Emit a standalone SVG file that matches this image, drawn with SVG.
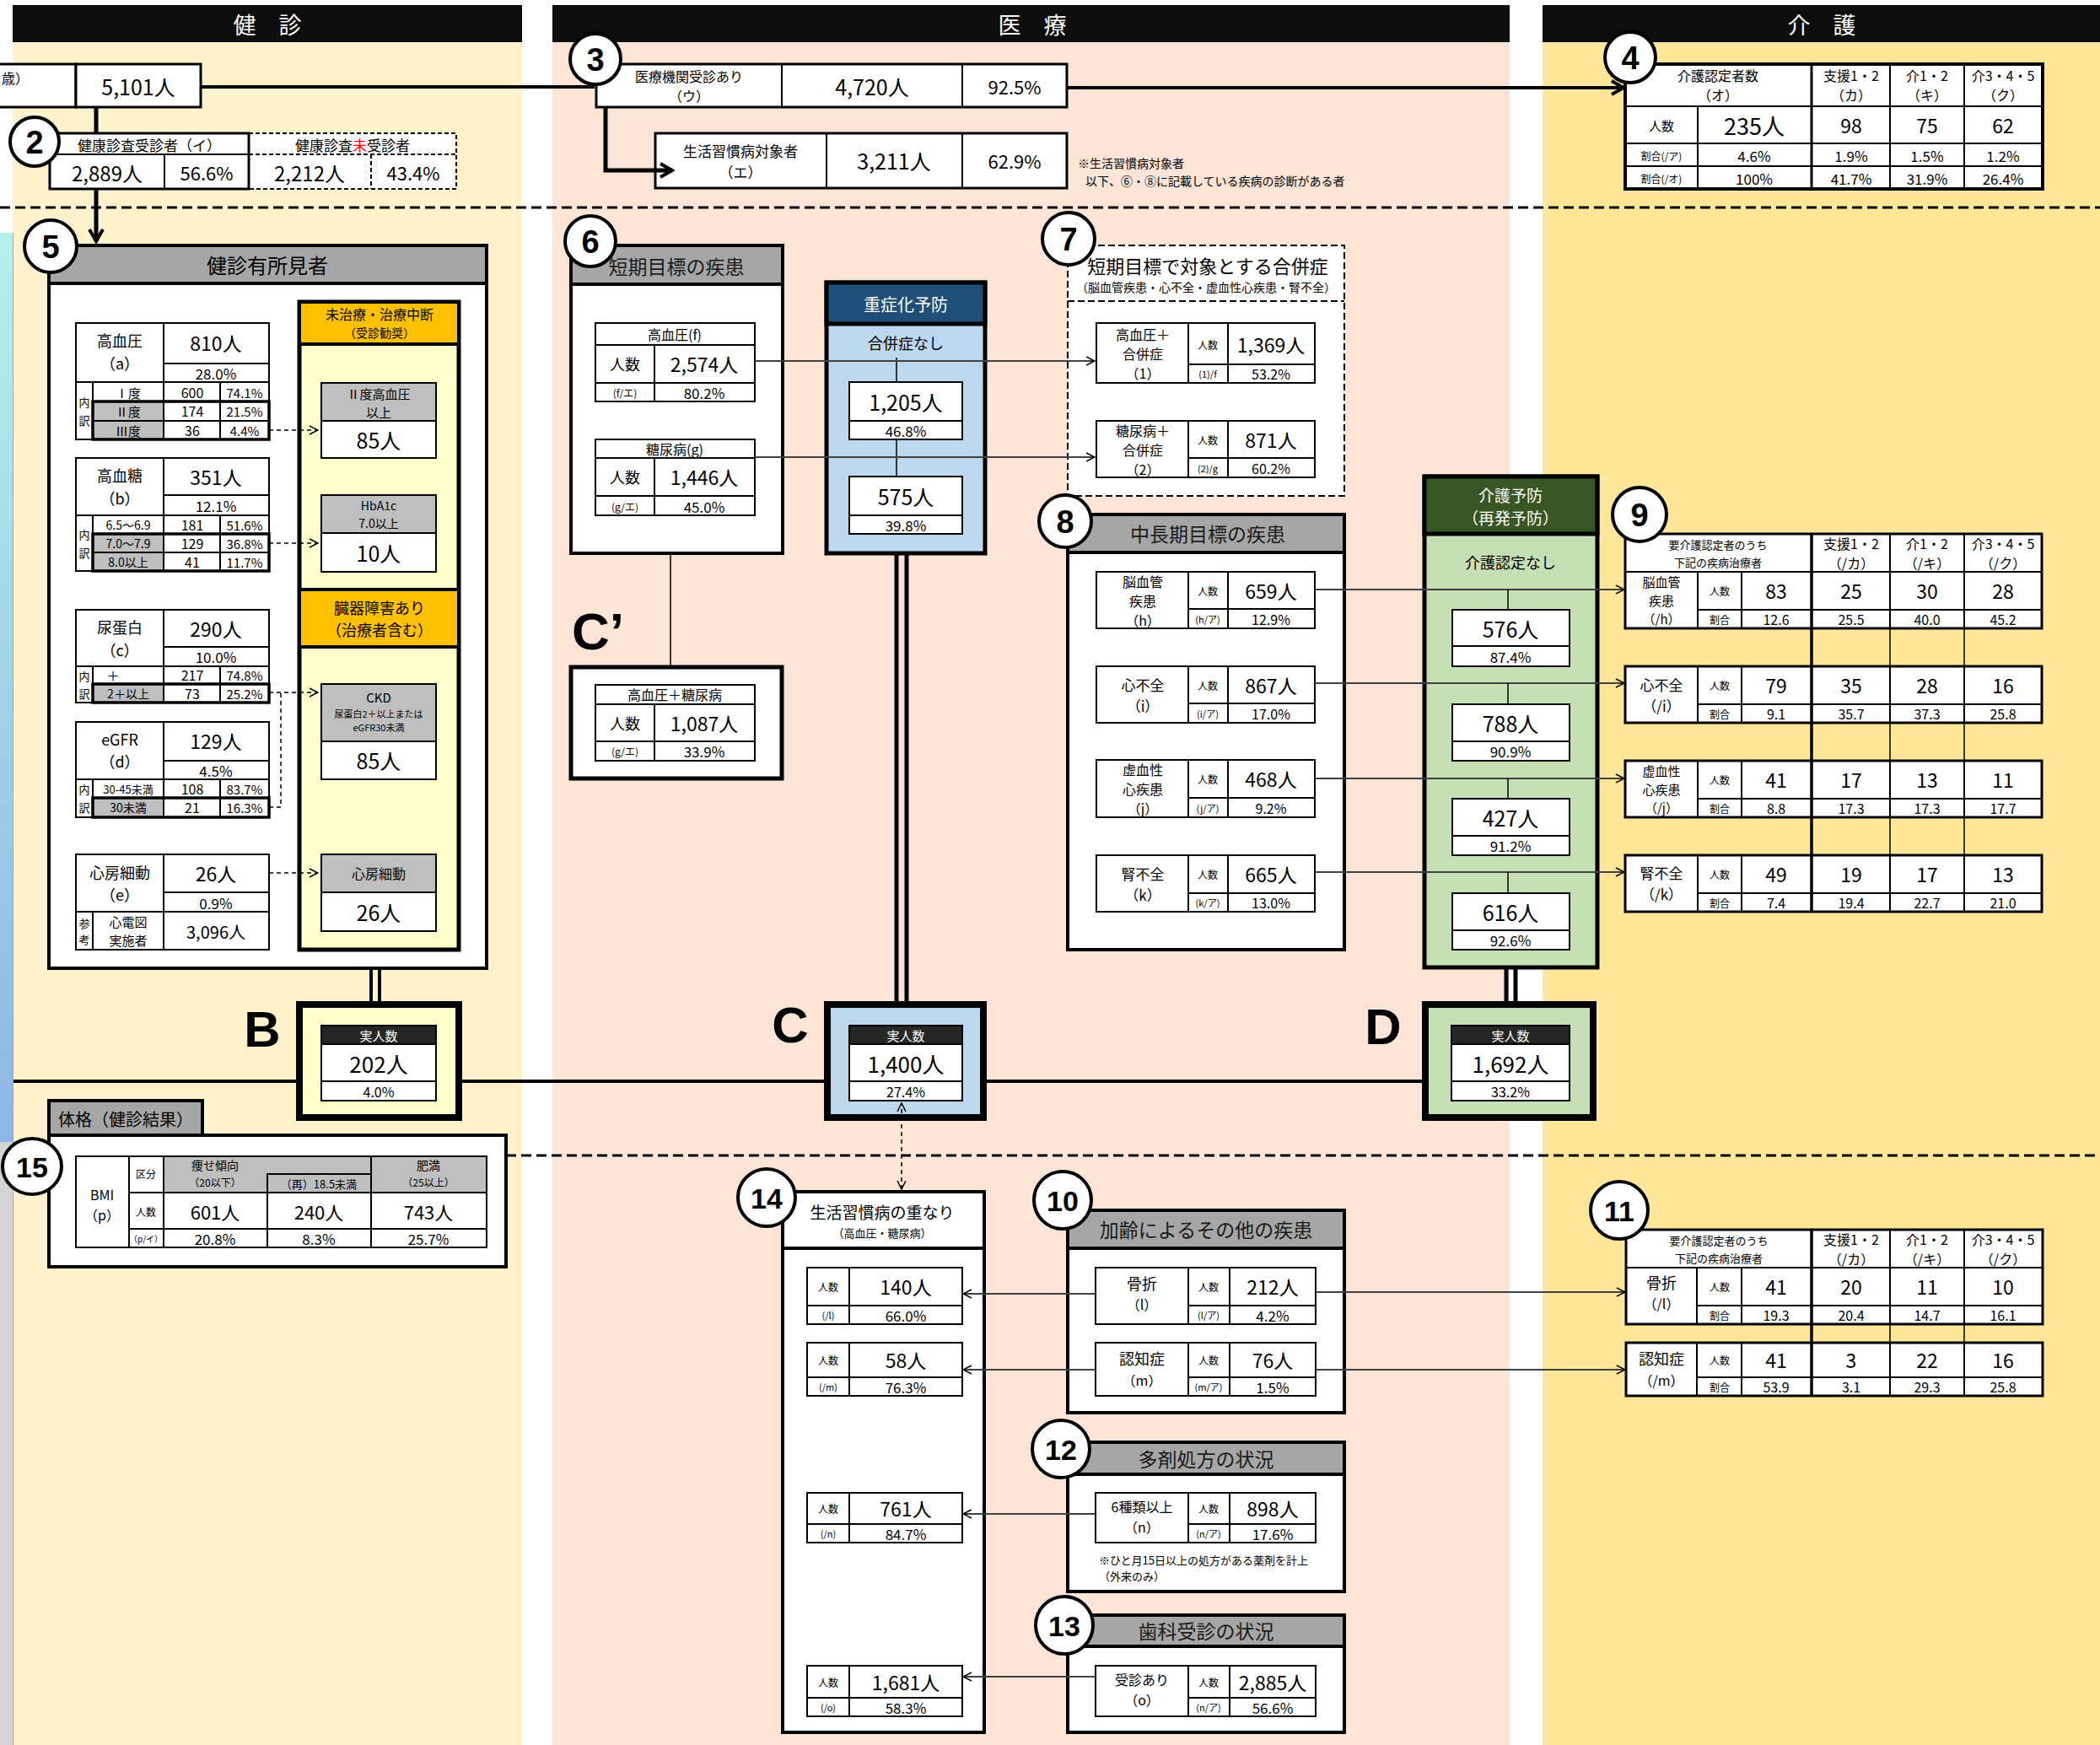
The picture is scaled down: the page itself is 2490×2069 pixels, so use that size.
<svg xmlns="http://www.w3.org/2000/svg" width="2490" height="2069" viewBox="0 0 2490 2069">
<defs>
<style>
text{font-family:"Noto Sans CJK JP","Noto Sans CJK SC",sans-serif;fill:#000;stroke:none;text-anchor:middle;dominant-baseline:central}
.s{text-anchor:start}
.e{text-anchor:end}
.wt{fill:#fff}
.ltr{font-family:"Liberation Sans","DejaVu Sans",sans-serif;font-weight:bold}
.cn{font-family:"Liberation Sans","DejaVu Sans",sans-serif;font-weight:bold;font-size:38px}
.cn2{font-family:"Liberation Sans","DejaVu Sans",sans-serif;font-weight:bold;font-size:34px}
.cir{fill:#fff;stroke:#000;stroke-width:4}
.hdr{fill:#a6a6a6;stroke:#000;stroke-width:4}
.ttl{font-size:23px;fill:#1a1a1a}
</style>
<marker id="a" viewBox="0 0 12 12" refX="11" refY="6" markerWidth="12" markerHeight="12" markerUnits="userSpaceOnUse" orient="auto-start-reverse"><path d="M1,1 L11,6 L1,11" fill="none" stroke="#000" stroke-width="1.5"/></marker>
<marker id="A" viewBox="0 0 20 20" refX="17" refY="10" markerWidth="20" markerHeight="20" markerUnits="userSpaceOnUse" orient="auto"><path d="M3,2 L17,10 L3,18" fill="none" stroke="#000" stroke-width="4"/></marker>
<linearGradient id="cy" x1="0" y1="0" x2="0" y2="1"><stop offset="0" stop-color="#B6F0EC"/><stop offset="1" stop-color="#8DB6E4"/></linearGradient>
</defs>

<g id="background">
<rect x="0" y="0" width="2490" height="2069" fill="#fff"/>
<rect x="15" y="50" width="604" height="2019" fill="#FFF2CC"/>
<rect x="655" y="50" width="1135" height="2019" fill="#FCE4D6"/>
<rect x="1829" y="50" width="661" height="2019" fill="#FFE699"/>
<rect x="0" y="276" width="15" height="1078" fill="url(#cy)"/>
<rect x="0" y="1354" width="15" height="715" fill="#D4D4D4"/>
<line x1="15.5" y1="276" x2="15.5" y2="2069" stroke="#8fa9c8" stroke-width="1"/>
<rect x="15" y="6" width="604" height="44" fill="#0d0d0d"/>
<text x="317" y="28" font-size="27" class="wt">健　診</text>
<rect x="655" y="6" width="1135" height="44" fill="#0d0d0d"/>
<text x="1224" y="28" font-size="27" class="wt">医　療</text>
<rect x="1829" y="6" width="661" height="44" fill="#0d0d0d"/>
<text x="2160" y="28" font-size="27" class="wt">介　護</text>
<line x1="0" y1="246" x2="2490" y2="246" stroke="#000" stroke-width="3" stroke-dasharray="12,6"/>
<line x1="600" y1="1370" x2="2490" y2="1370" stroke="#000" stroke-width="3" stroke-dasharray="12,6"/>
</g>

<g id="n1">
<g fill="#fff" stroke="#000" stroke-width="3"><rect x="-4" y="76" width="94" height="51"/><rect x="90" y="76" width="148" height="51"/></g>
<text x="34" y="92" font-size="16" class="e">歳）</text>
<text x="164" y="102" font-size="25">5,101人</text>
</g>

<g id="n2">
<rect x="295" y="158" width="246" height="66" fill="#fff" stroke="#000" stroke-width="2" stroke-dasharray="5,3"/>
<g stroke="#000" stroke-width="2" stroke-dasharray="5,3"><line x1="295" y1="183" x2="541" y2="183"/><line x1="440" y1="183" x2="440" y2="224"/></g>
<rect x="59" y="158" width="236" height="66" fill="#fff" stroke="#000" stroke-width="3"/>
<g stroke="#000" stroke-width="2"><line x1="59" y1="183" x2="295" y2="183"/><line x1="195" y1="183" x2="195" y2="224"/></g>
<text x="177" y="171" font-size="17">健康診査受診者（イ）</text>
<text x="418" y="171" font-size="17">健康診査<tspan fill="#ff0000">未</tspan>受診者</text>
<text x="127" y="204" font-size="24">2,889人</text>
<text x="245" y="204" font-size="22">56.6%</text>
<text x="367" y="204" font-size="24">2,212人</text>
<text x="490" y="204" font-size="22">43.4%</text>
<circle class="cir" cx="41" cy="168" r="29"/><text x="41" y="169" class="cn">2</text>
</g>

<g id="n3">
<g fill="#fff" stroke="#000" stroke-width="3"><rect x="707" y="76" width="558" height="51"/></g>
<g stroke="#000" stroke-width="2"><line x1="927" y1="76" x2="927" y2="127"/><line x1="1141" y1="76" x2="1141" y2="127"/></g>
<text x="817" y="90" font-size="16">医療機関受診あり</text>
<text x="817" y="113" font-size="16">（ウ）</text>
<text x="1034" y="102" font-size="25">4,720人</text>
<text x="1203" y="102" font-size="22">92.5%</text>
<circle class="cir" cx="706" cy="70" r="30"/><text x="706" y="71" class="cn">3</text>
</g>

<g id="n3b">
<rect x="777" y="158" width="488" height="65" fill="#fff" stroke="#000" stroke-width="3"/>
<g stroke="#000" stroke-width="2"><line x1="980" y1="158" x2="980" y2="223"/><line x1="1141" y1="158" x2="1141" y2="223"/></g>
<text x="878" y="178" font-size="17">生活習慣病対象者</text>
<text x="878" y="203" font-size="17">（エ）</text>
<text x="1060" y="190" font-size="25">3,211人</text>
<text x="1203" y="190" font-size="22">62.9%</text>
<text x="1278" y="193" font-size="14" class="s">※生活習慣病対象者</text>
<text x="1287" y="214" font-size="14" class="s">以下、⑥・⑧に記載している疾病の診断がある者</text>
</g>

<g id="n4">
<rect x="1927" y="76" width="495" height="148" fill="#fff" stroke="#000" stroke-width="4"/>
<g stroke="#000" stroke-width="2">
<line x1="1927" y1="126" x2="2422" y2="126"/><line x1="1927" y1="170" x2="2422" y2="170"/><line x1="1927" y1="197" x2="2422" y2="197"/>
<line x1="2013" y1="126" x2="2013" y2="224"/><line x1="2148" y1="76" x2="2148" y2="224" stroke-width="3"/>
<line x1="2241" y1="76" x2="2241" y2="224"/><line x1="2329" y1="76" x2="2329" y2="224"/>
</g>
<text x="2037" y="89" font-size="16">介護認定者数</text><text x="2037" y="112" font-size="16">（オ）</text>
<text x="2195" y="89" font-size="16">支援1・2</text><text x="2195" y="112" font-size="16">（カ）</text>
<text x="2285" y="89" font-size="16">介1・2</text><text x="2285" y="112" font-size="16">（キ）</text>
<text x="2375" y="89" font-size="16">介3・4・5</text><text x="2375" y="112" font-size="16">（ク）</text>
<text x="1970" y="148" font-size="15">人数</text><text x="2080" y="148" font-size="27">235人</text>
<text x="2195" y="148" font-size="23">98</text><text x="2285" y="148" font-size="23">75</text><text x="2375" y="148" font-size="23">62</text>
<text x="1970" y="184" font-size="12">割合(/ア)</text><text x="2080" y="184" font-size="17">4.6%</text>
<text x="2195" y="184" font-size="17">1.9%</text><text x="2285" y="184" font-size="17">1.5%</text><text x="2375" y="184" font-size="17">1.2%</text>
<text x="1970" y="211" font-size="12">割合(/オ)</text><text x="2080" y="211" font-size="17">100%</text>
<text x="2195" y="211" font-size="17">41.7%</text><text x="2285" y="211" font-size="17">31.9%</text><text x="2375" y="211" font-size="17">26.4%</text>
<circle class="cir" cx="1933" cy="68" r="30"/><text x="1933" y="69" class="cn">4</text>
</g>

<g id="n5">
<rect x="58" y="291" width="519" height="857" fill="#fff" stroke="#000" stroke-width="4"/>
<rect class="hdr" x="58" y="291" width="519" height="45"/>
<text x="317" y="313" font-size="24" fill="#222">健診有所見者</text>
<circle class="cir" cx="60" cy="292" r="31"/><text x="60" y="293" class="cn">5</text>
<g stroke="#000" stroke-width="2" fill="#fff">
<rect x="90" y="383" width="229" height="138"/>
<rect x="110" y="476" width="84" height="45" fill="#bfbfbf"/>
<line x1="194" y1="383" x2="194" y2="521"/><line x1="194" y1="431" x2="319" y2="431"/>
<line x1="90" y1="453" x2="319" y2="453"/><line x1="110" y1="453" x2="110" y2="521"/>
<line x1="110" y1="476" x2="319" y2="476"/><line x1="110" y1="499" x2="319" y2="499"/>
<line x1="261" y1="453" x2="261" y2="521"/>
<rect x="110" y="476" width="209" height="45" fill="none" stroke-width="3.5"/>
<rect x="90" y="543" width="229" height="134"/>
<rect x="110" y="633" width="84" height="44" fill="#bfbfbf"/>
<line x1="194" y1="543" x2="194" y2="677"/><line x1="194" y1="587" x2="319" y2="587"/>
<line x1="90" y1="611" x2="319" y2="611"/><line x1="110" y1="611" x2="110" y2="677"/>
<line x1="110" y1="633" x2="319" y2="633"/><line x1="110" y1="655" x2="319" y2="655"/>
<line x1="261" y1="611" x2="261" y2="677"/>
<rect x="110" y="633" width="209" height="44" fill="none" stroke-width="3.5"/>
<rect x="90" y="723" width="229" height="110"/>
<rect x="110" y="811" width="84" height="22" fill="#bfbfbf"/>
<line x1="194" y1="723" x2="194" y2="833"/><line x1="194" y1="767" x2="319" y2="767"/>
<line x1="90" y1="790" x2="319" y2="790"/><line x1="110" y1="790" x2="110" y2="833"/>
<line x1="110" y1="811" x2="319" y2="811"/><line x1="261" y1="790" x2="261" y2="833"/>
<rect x="110" y="811" width="209" height="22" fill="none" stroke-width="3.5"/>
<rect x="90" y="856" width="229" height="113"/>
<rect x="110" y="946" width="84" height="23" fill="#bfbfbf"/>
<line x1="194" y1="856" x2="194" y2="969"/><line x1="194" y1="902" x2="319" y2="902"/>
<line x1="90" y1="924" x2="319" y2="924"/><line x1="110" y1="924" x2="110" y2="969"/>
<line x1="110" y1="946" x2="319" y2="946"/><line x1="261" y1="924" x2="261" y2="969"/>
<rect x="110" y="946" width="209" height="23" fill="none" stroke-width="3.5"/>
<rect x="90" y="1013" width="229" height="113"/>
<line x1="194" y1="1013" x2="194" y2="1126"/><line x1="194" y1="1058" x2="319" y2="1058"/>
<line x1="90" y1="1081" x2="319" y2="1081"/><line x1="110" y1="1081" x2="110" y2="1126"/>
</g>
<text x="142" y="403" font-size="18">高血圧</text><text x="142" y="430" font-size="18">（a）</text>
<text x="256" y="406" font-size="23">810人</text><text x="256" y="442" font-size="17">28.0%</text>
<text x="100" y="476" font-size="13">内</text><text x="100" y="498" font-size="13">訳</text>
<text x="152" y="465" font-size="15">Ⅰ度</text><text x="228" y="465" font-size="16">600</text><text x="290" y="465" font-size="15">74.1%</text>
<text x="152" y="487" font-size="15">Ⅱ度</text><text x="228" y="487" font-size="16">174</text><text x="290" y="487" font-size="15">21.5%</text>
<text x="152" y="510" font-size="15">Ⅲ度</text><text x="228" y="510" font-size="16">36</text><text x="290" y="510" font-size="15">4.4%</text>
<text x="142" y="563" font-size="18">高血糖</text><text x="142" y="590" font-size="18">（b）</text>
<text x="256" y="565" font-size="23">351人</text><text x="256" y="599" font-size="17">12.1%</text>
<text x="100" y="633" font-size="13">内</text><text x="100" y="655" font-size="13">訳</text>
<text x="152" y="622" font-size="14">6.5～6.9</text><text x="228" y="622" font-size="16">181</text><text x="290" y="622" font-size="15">51.6%</text>
<text x="152" y="644" font-size="14">7.0～7.9</text><text x="228" y="644" font-size="16">129</text><text x="290" y="644" font-size="15">36.8%</text>
<text x="152" y="666" font-size="14">8.0以上</text><text x="228" y="666" font-size="16">41</text><text x="290" y="666" font-size="15">11.7%</text>
<text x="142" y="743" font-size="18">尿蛋白</text><text x="142" y="770" font-size="18">（c）</text>
<text x="256" y="745" font-size="23">290人</text><text x="256" y="778" font-size="17">10.0%</text>
<text x="100" y="801" font-size="13">内</text><text x="100" y="822" font-size="13">訳</text>
<text x="134" y="800" font-size="15">＋</text><text x="228" y="800" font-size="16">217</text><text x="290" y="800" font-size="15">74.8%</text>
<text x="152" y="822" font-size="14">2＋以上</text><text x="228" y="822" font-size="16">73</text><text x="290" y="822" font-size="15">25.2%</text>
<text x="142" y="876" font-size="18">eGFR</text><text x="142" y="902" font-size="18">（d）</text>
<text x="256" y="878" font-size="23">129人</text><text x="256" y="913" font-size="17">4.5%</text>
<text x="100" y="935" font-size="13">内</text><text x="100" y="957" font-size="13">訳</text>
<text x="152" y="935" font-size="13">30-45未満</text><text x="228" y="935" font-size="16">108</text><text x="290" y="935" font-size="15">83.7%</text>
<text x="152" y="957" font-size="14">30未満</text><text x="228" y="957" font-size="16">21</text><text x="290" y="957" font-size="15">16.3%</text>
<text x="142" y="1034" font-size="18">心房細動</text><text x="142" y="1060" font-size="18">（e）</text>
<text x="256" y="1035" font-size="23">26人</text><text x="256" y="1070" font-size="17">0.9%</text>
<text x="100" y="1094" font-size="13">参</text><text x="100" y="1113" font-size="13">考</text>
<text x="152" y="1092" font-size="15">心電図</text><text x="152" y="1114" font-size="15">実施者</text>
<text x="256" y="1104" font-size="20">3,096人</text>
<rect x="355" y="358" width="189" height="768" fill="#FFFFCC" stroke="#000" stroke-width="5"/>
<rect x="355" y="358" width="189" height="50" fill="#FFC000" stroke="#000" stroke-width="4"/>
<rect x="355" y="699" width="189" height="68" fill="#FFC000" stroke="#000" stroke-width="4"/>
<text x="450" y="372" font-size="16">未治療・治療中断</text><text x="450" y="394" font-size="14">（受診勧奨）</text>
<text x="450" y="720" font-size="18">臓器障害あり</text><text x="450" y="746" font-size="18">（治療者含む）</text>
<g stroke="#000" stroke-width="2">
<rect x="381" y="454" width="136" height="45" fill="#bfbfbf"/><rect x="381" y="499" width="136" height="44" fill="#fff"/>
<rect x="381" y="587" width="136" height="45" fill="#bfbfbf"/><rect x="381" y="632" width="136" height="46" fill="#fff"/>
<rect x="381" y="811" width="136" height="68" fill="#bfbfbf"/><rect x="381" y="879" width="136" height="45" fill="#fff"/>
<rect x="381" y="1013" width="136" height="45" fill="#bfbfbf"/><rect x="381" y="1058" width="136" height="46" fill="#fff"/>
</g>
<text x="449" y="466" font-size="15">Ⅱ度高血圧</text><text x="449" y="488" font-size="15">以上</text>
<text x="449" y="521" font-size="25">85人</text>
<text x="449" y="599" font-size="14">HbA1c</text><text x="449" y="620" font-size="14">7.0以上</text>
<text x="449" y="655" font-size="25">10人</text>
<text x="449" y="826" font-size="15">CKD</text><text x="449" y="846" font-size="11">尿蛋白2＋以上または</text><text x="449" y="862" font-size="11">eGFR30未満</text>
<text x="449" y="901" font-size="25">85人</text>
<text x="449" y="1035" font-size="16">心房細動</text>
<text x="449" y="1081" font-size="25">26人</text>
</g>

<g id="nB">
<rect x="355" y="1191" width="189" height="134" fill="#FFFFCC" stroke="#000" stroke-width="8"/>
<g stroke="#000" stroke-width="2"><rect x="381" y="1216" width="136" height="22" fill="#262626"/><rect x="381" y="1238" width="136" height="44" fill="#fff"/><rect x="381" y="1282" width="136" height="23" fill="#fff"/></g>
<text x="449" y="1227" font-size="15" class="wt">実人数</text>
<text x="449" y="1260" font-size="26">202人</text>
<text x="449" y="1294" font-size="16">4.0%</text>
<text x="311" y="1220" font-size="60" class="ltr">B</text>
</g>

<g id="n15">
<rect class="hdr" x="58" y="1305" width="182" height="41"/>
<text x="149" y="1326" font-size="20" fill="#222">体格（健診結果）</text>
<rect x="58" y="1346" width="542" height="156" fill="#fff" stroke="#000" stroke-width="4"/>
<g stroke="#000" stroke-width="2">
<rect x="90" y="1371" width="487" height="108" fill="#fff"/>
<rect x="194" y="1371" width="246" height="43" fill="#bfbfbf"/>
<rect x="317" y="1392" width="123" height="22" fill="#bfbfbf"/>
<rect x="440" y="1371" width="137" height="43" fill="#bfbfbf"/>
<line x1="153" y1="1371" x2="153" y2="1479"/><line x1="194" y1="1371" x2="194" y2="1479"/>
<line x1="317" y1="1414" x2="317" y2="1479"/><line x1="440" y1="1414" x2="440" y2="1479"/>
<line x1="153" y1="1414" x2="577" y2="1414"/><line x1="153" y1="1457" x2="577" y2="1457"/>
</g>
<text x="121" y="1416" font-size="16">BMI</text><text x="121" y="1440" font-size="16">（p）</text>
<text x="173" y="1391" font-size="12">区分</text><text x="173" y="1436" font-size="12">人数</text><text x="173" y="1468" font-size="10">（p/イ）</text>
<text x="255" y="1381" font-size="14">痩せ傾向</text><text x="255" y="1401" font-size="12">（20以下）</text>
<text x="378" y="1403" font-size="13">（再）18.5未満</text>
<text x="508" y="1381" font-size="14">肥満</text><text x="508" y="1401" font-size="12">（25以上）</text>
<text x="255" y="1436" font-size="22">601人</text><text x="378" y="1436" font-size="22">240人</text><text x="508" y="1436" font-size="22">743人</text>
<text x="255" y="1468" font-size="17">20.8%</text><text x="378" y="1468" font-size="17">8.3%</text><text x="508" y="1468" font-size="17">25.7%</text>
<ellipse class="cir" cx="38" cy="1383" rx="35" ry="33"/><text x="38" y="1384" class="cn2">15</text>
</g>

<g id="n6">
<rect x="677" y="291" width="251" height="365" fill="#fff" stroke="#000" stroke-width="4"/>
<rect class="hdr" x="677" y="291" width="251" height="46"/>
<text x="802" y="315" class="ttl" font-size="24">短期目標の疾患</text>
<circle class="cir" cx="700" cy="286" r="30"/><text x="700" y="287" class="cn">6</text>
<g stroke="#000" stroke-width="2" fill="#fff">
<rect x="706" y="383" width="189" height="93"/><line x1="706" y1="409" x2="895" y2="409"/><line x1="706" y1="454" x2="895" y2="454"/><line x1="776" y1="409" x2="776" y2="476"/>
<rect x="706" y="521" width="189" height="90"/><line x1="706" y1="543" x2="895" y2="543"/><line x1="706" y1="588" x2="895" y2="588"/><line x1="776" y1="543" x2="776" y2="611"/>
</g>
<text x="800" y="396" font-size="16">高血圧(f)</text>
<text x="741" y="431" font-size="18">人数</text><text x="835" y="431" font-size="23">2,574人</text>
<text x="741" y="465" font-size="12">(f/エ)</text><text x="835" y="465" font-size="17">80.2%</text>
<text x="800" y="532" font-size="16">糖尿病(g)</text>
<text x="741" y="565" font-size="18">人数</text><text x="835" y="565" font-size="23">1,446人</text>
<text x="741" y="600" font-size="12">(g/エ)</text><text x="835" y="600" font-size="17">45.0%</text>
</g>

<g id="nC2">
<rect x="677" y="791" width="250" height="132" fill="#fff" stroke="#000" stroke-width="5"/>
<g stroke="#000" stroke-width="2" fill="#fff">
<rect x="706" y="812" width="189" height="90"/><line x1="706" y1="835" x2="895" y2="835"/><line x1="706" y1="879" x2="895" y2="879"/><line x1="776" y1="835" x2="776" y2="902"/>
</g>
<text x="800" y="823" font-size="16">高血圧＋糖尿病</text>
<text x="741" y="857" font-size="18">人数</text><text x="835" y="857" font-size="23">1,087人</text>
<text x="741" y="890" font-size="12">(g/エ)</text><text x="835" y="890" font-size="17">33.9%</text>
<text x="678" y="748" font-size="62" class="ltr s">C’</text>
</g>

<g id="nSev">
<rect x="980" y="335" width="188" height="321" fill="#BDD7EE" stroke="#000" stroke-width="5"/>
<rect x="980" y="335" width="188" height="49" fill="#1F4E79" stroke="#000" stroke-width="5"/>
<text x="1074" y="360" font-size="20" class="wt">重症化予防</text>
<text x="1074" y="406" font-size="18">合併症なし</text>
<g stroke="#000" stroke-width="2" fill="#fff">
<rect x="1007" y="453" width="134" height="46"/><rect x="1007" y="499" width="134" height="22"/>
<rect x="1007" y="565" width="134" height="46"/><rect x="1007" y="611" width="134" height="22"/>
</g>
<text x="1074" y="476" font-size="25">1,205人</text><text x="1074" y="510" font-size="17">46.8%</text>
<text x="1074" y="588" font-size="25">575人</text><text x="1074" y="622" font-size="17">39.8%</text>
</g>

<g id="nC">
<rect x="981" y="1191" width="185" height="134" fill="#BDD7EE" stroke="#000" stroke-width="8"/>
<g stroke="#000" stroke-width="2"><rect x="1007" y="1216" width="134" height="22" fill="#262626"/><rect x="1007" y="1238" width="134" height="44" fill="#fff"/><rect x="1007" y="1282" width="134" height="23" fill="#fff"/></g>
<text x="1074" y="1227" font-size="15" class="wt">実人数</text>
<text x="1074" y="1260" font-size="26">1,400人</text>
<text x="1074" y="1294" font-size="16">27.4%</text>
<text x="937" y="1215" font-size="60" class="ltr">C</text>
</g>

<g id="n7">
<rect x="1266" y="291" width="328" height="297" fill="#fff" stroke="#000" stroke-width="2" stroke-dasharray="8,4"/>
<line x1="1266" y1="357" x2="1594" y2="357" stroke="#000" stroke-width="2" stroke-dasharray="8,4"/>
<text x="1432" y="314" font-size="22">短期目標で対象とする合併症</text>
<text x="1430" y="340" font-size="14">（脳血管疾患・心不全・虚血性心疾患・腎不全）</text>
<circle class="cir" cx="1267" cy="283" r="31"/><text x="1267" y="284" class="cn">7</text>
<g stroke="#000" stroke-width="2" fill="#fff">
<rect x="1300" y="383" width="259" height="71"/><line x1="1409" y1="383" x2="1409" y2="454"/><line x1="1456" y1="383" x2="1456" y2="454"/><line x1="1409" y1="432" x2="1559" y2="432"/>
<rect x="1300" y="499" width="259" height="67"/><line x1="1409" y1="499" x2="1409" y2="566"/><line x1="1456" y1="499" x2="1456" y2="566"/><line x1="1409" y1="543" x2="1559" y2="543"/>
</g>
<text x="1355" y="396" font-size="16">高血圧＋</text><text x="1355" y="419" font-size="16">合併症</text><text x="1355" y="442" font-size="16">（1）</text>
<text x="1432" y="408" font-size="12">人数</text><text x="1507" y="408" font-size="23">1,369人</text>
<text x="1432" y="443" font-size="11">(1)/f</text><text x="1507" y="443" font-size="16">53.2%</text>
<text x="1355" y="510" font-size="16">糖尿病＋</text><text x="1355" y="533" font-size="16">合併症</text><text x="1355" y="556" font-size="16">（2）</text>
<text x="1432" y="521" font-size="12">人数</text><text x="1507" y="521" font-size="23">871人</text>
<text x="1432" y="555" font-size="11">(2)/g</text><text x="1507" y="555" font-size="16">60.2%</text>
</g>

<g id="n8">
<rect x="1266" y="610" width="328" height="516" fill="#fff" stroke="#000" stroke-width="4"/>
<rect class="hdr" x="1266" y="610" width="328" height="45"/>
<text x="1432" y="632" class="ttl">中長期目標の疾患</text>
<circle class="cir" cx="1263" cy="618" r="31"/><text x="1263" y="619" class="cn">8</text>
<g stroke="#000" stroke-width="2" fill="#fff">
<rect x="1300" y="678" width="259" height="67"/><line x1="1409" y1="678" x2="1409" y2="745"/><line x1="1456" y1="678" x2="1456" y2="745"/><line x1="1409" y1="722" x2="1559" y2="722"/>
<rect x="1300" y="790" width="259" height="67"/><line x1="1409" y1="790" x2="1409" y2="857"/><line x1="1456" y1="790" x2="1456" y2="857"/><line x1="1409" y1="834" x2="1559" y2="834"/>
<rect x="1300" y="901" width="259" height="68"/><line x1="1409" y1="901" x2="1409" y2="969"/><line x1="1456" y1="901" x2="1456" y2="969"/><line x1="1409" y1="946" x2="1559" y2="946"/>
<rect x="1300" y="1014" width="259" height="67"/><line x1="1409" y1="1014" x2="1409" y2="1081"/><line x1="1456" y1="1014" x2="1456" y2="1081"/><line x1="1409" y1="1059" x2="1559" y2="1059"/>
</g>
<text x="1355" y="689" font-size="16">脳血管</text><text x="1355" y="712" font-size="16">疾患</text><text x="1355" y="735" font-size="16">（h）</text>
<text x="1432" y="700" font-size="12">人数</text><text x="1507" y="700" font-size="23">659人</text>
<text x="1432" y="734" font-size="11">(h/ア)</text><text x="1507" y="734" font-size="16">12.9%</text>
<text x="1355" y="811" font-size="17">心不全</text><text x="1355" y="836" font-size="17">（i）</text>
<text x="1432" y="812" font-size="12">人数</text><text x="1507" y="812" font-size="23">867人</text>
<text x="1432" y="846" font-size="11">(i/ア)</text><text x="1507" y="846" font-size="16">17.0%</text>
<text x="1355" y="912" font-size="16">虚血性</text><text x="1355" y="935" font-size="16">心疾患</text><text x="1355" y="958" font-size="16">（j）</text>
<text x="1432" y="923" font-size="12">人数</text><text x="1507" y="923" font-size="23">468人</text>
<text x="1432" y="958" font-size="11">(j/ア)</text><text x="1507" y="958" font-size="16">9.2%</text>
<text x="1355" y="1035" font-size="17">腎不全</text><text x="1355" y="1060" font-size="17">（k）</text>
<text x="1432" y="1036" font-size="12">人数</text><text x="1507" y="1036" font-size="23">665人</text>
<text x="1432" y="1070" font-size="11">(k/ア)</text><text x="1507" y="1070" font-size="16">13.0%</text>
</g>

<g id="nPrev">
<rect x="1689" y="565" width="205" height="582" fill="#C5E0B4" stroke="#000" stroke-width="5"/>
<rect x="1689" y="565" width="205" height="68" fill="#375623" stroke="#000" stroke-width="5"/>
<text x="1791" y="586" font-size="19" class="wt">介護予防</text><text x="1791" y="613" font-size="19" class="wt">（再発予防）</text>
<text x="1791" y="666" font-size="18">介護認定なし</text>
<g stroke="#000" stroke-width="2" fill="#fff">
<rect x="1722" y="723" width="139" height="43"/><rect x="1722" y="766" width="139" height="24"/>
<rect x="1722" y="835" width="139" height="44"/><rect x="1722" y="879" width="139" height="23"/>
<rect x="1722" y="947" width="139" height="44"/><rect x="1722" y="991" width="139" height="23"/>
<rect x="1722" y="1059" width="139" height="44"/><rect x="1722" y="1103" width="139" height="23"/>
</g>
<text x="1791" y="745" font-size="25">576人</text><text x="1791" y="778" font-size="17">87.4%</text>
<text x="1791" y="857" font-size="25">788人</text><text x="1791" y="890" font-size="17">90.9%</text>
<text x="1791" y="969" font-size="25">427人</text><text x="1791" y="1002" font-size="17">91.2%</text>
<text x="1791" y="1081" font-size="25">616人</text><text x="1791" y="1114" font-size="17">92.6%</text>
</g>

<g id="nD">
<rect x="1690" y="1191" width="199" height="134" fill="#C5E0B4" stroke="#000" stroke-width="8"/>
<g stroke="#000" stroke-width="2"><rect x="1721" y="1216" width="140" height="22" fill="#262626"/><rect x="1721" y="1238" width="140" height="44" fill="#fff"/><rect x="1721" y="1282" width="140" height="23" fill="#fff"/></g>
<text x="1791" y="1227" font-size="15" class="wt">実人数</text>
<text x="1791" y="1260" font-size="26">1,692人</text>
<text x="1791" y="1294" font-size="16">33.2%</text>
<text x="1640" y="1217" font-size="60" class="ltr">D</text>
</g>

<g id="n9">
<g stroke="#000" stroke-width="2" fill="#fff">
<rect x="1927" y="633" width="494" height="112" stroke-width="3"/>
<line x1="1927" y1="678" x2="2421" y2="678"/><line x1="2013" y1="678" x2="2013" y2="745"/><line x1="2065" y1="678" x2="2065" y2="745"/>
<line x1="2148" y1="633" x2="2148" y2="745" stroke-width="3.5"/><line x1="2241" y1="633" x2="2241" y2="745"/><line x1="2329" y1="633" x2="2329" y2="745"/>
<line x1="2013" y1="723" x2="2421" y2="723"/>
<rect x="1927" y="790" width="494" height="67" stroke-width="3"/>
<line x1="2013" y1="790" x2="2013" y2="857"/><line x1="2065" y1="790" x2="2065" y2="857"/><line x1="2148" y1="790" x2="2148" y2="857" stroke-width="3.5"/><line x1="2241" y1="790" x2="2241" y2="857"/><line x1="2329" y1="790" x2="2329" y2="857"/><line x1="2013" y1="835" x2="2421" y2="835"/>
<rect x="1927" y="902" width="494" height="67" stroke-width="3"/>
<line x1="2013" y1="902" x2="2013" y2="969"/><line x1="2065" y1="902" x2="2065" y2="969"/><line x1="2148" y1="902" x2="2148" y2="969" stroke-width="3.5"/><line x1="2241" y1="902" x2="2241" y2="969"/><line x1="2329" y1="902" x2="2329" y2="969"/><line x1="2013" y1="947" x2="2421" y2="947"/>
<rect x="1927" y="1014" width="494" height="67" stroke-width="3"/>
<line x1="2013" y1="1014" x2="2013" y2="1081"/><line x1="2065" y1="1014" x2="2065" y2="1081"/><line x1="2148" y1="1014" x2="2148" y2="1081" stroke-width="3.5"/><line x1="2241" y1="1014" x2="2241" y2="1081"/><line x1="2329" y1="1014" x2="2329" y2="1081"/><line x1="2013" y1="1059" x2="2421" y2="1059"/>
</g>
<text x="2037" y="645" font-size="13">要介護認定者のうち</text><text x="2037" y="666" font-size="13">下記の疾病治療者</text>
<text x="2195" y="644" font-size="16">支援1・2</text><text x="2195" y="667" font-size="16">（/カ）</text>
<text x="2285" y="644" font-size="16">介1・2</text><text x="2285" y="667" font-size="16">（/キ）</text>
<text x="2375" y="644" font-size="16">介3・4・5</text><text x="2375" y="667" font-size="16">（/ク）</text>
<text x="1970" y="689" font-size="15">脳血管</text><text x="1970" y="711" font-size="15">疾患</text><text x="1970" y="733" font-size="15">（/h）</text>
<text x="2039" y="700" font-size="12">人数</text><text x="2106" y="700" font-size="23">83</text><text x="2195" y="700" font-size="23">25</text><text x="2285" y="700" font-size="23">30</text><text x="2375" y="700" font-size="23">28</text>
<text x="2039" y="734" font-size="12">割合</text><text x="2106" y="734" font-size="16">12.6</text><text x="2195" y="734" font-size="16">25.5</text><text x="2285" y="734" font-size="16">40.0</text><text x="2375" y="734" font-size="16">45.2</text>
<text x="1970" y="811" font-size="17">心不全</text><text x="1970" y="836" font-size="17">（/i）</text>
<text x="2039" y="812" font-size="12">人数</text><text x="2106" y="812" font-size="23">79</text><text x="2195" y="812" font-size="23">35</text><text x="2285" y="812" font-size="23">28</text><text x="2375" y="812" font-size="23">16</text>
<text x="2039" y="846" font-size="12">割合</text><text x="2106" y="846" font-size="16">9.1</text><text x="2195" y="846" font-size="16">35.7</text><text x="2285" y="846" font-size="16">37.3</text><text x="2375" y="846" font-size="16">25.8</text>
<text x="1970" y="913" font-size="15">虚血性</text><text x="1970" y="935" font-size="15">心疾患</text><text x="1970" y="957" font-size="15">（/j）</text>
<text x="2039" y="924" font-size="12">人数</text><text x="2106" y="924" font-size="23">41</text><text x="2195" y="924" font-size="23">17</text><text x="2285" y="924" font-size="23">13</text><text x="2375" y="924" font-size="23">11</text>
<text x="2039" y="958" font-size="12">割合</text><text x="2106" y="958" font-size="16">8.8</text><text x="2195" y="958" font-size="16">17.3</text><text x="2285" y="958" font-size="16">17.3</text><text x="2375" y="958" font-size="16">17.7</text>
<text x="1970" y="1034" font-size="17">腎不全</text><text x="1970" y="1059" font-size="17">（/k）</text>
<text x="2039" y="1036" font-size="12">人数</text><text x="2106" y="1036" font-size="23">49</text><text x="2195" y="1036" font-size="23">19</text><text x="2285" y="1036" font-size="23">17</text><text x="2375" y="1036" font-size="23">13</text>
<text x="2039" y="1070" font-size="12">割合</text><text x="2106" y="1070" font-size="16">7.4</text><text x="2195" y="1070" font-size="16">19.4</text><text x="2285" y="1070" font-size="16">22.7</text><text x="2375" y="1070" font-size="16">21.0</text>
<circle class="cir" cx="1944" cy="610" r="32"/><text x="1944" y="611" class="cn">9</text>
</g>

<g id="n14">
<rect x="928" y="1413" width="239" height="641" fill="#fff" stroke="#000" stroke-width="4"/>
<line x1="928" y1="1480" x2="1167" y2="1480" stroke="#000" stroke-width="4"/>
<text x="1046" y="1436" font-size="19">生活習慣病の重なり</text>
<text x="1046" y="1461" font-size="13">（高血圧・糖尿病）</text>
<circle class="cir" cx="909" cy="1420" r="34"/><text x="909" y="1421" class="cn2">14</text>
<g stroke="#000" stroke-width="2" fill="#fff">
<rect x="957" y="1503" width="184" height="67"/><line x1="1007" y1="1503" x2="1007" y2="1570"/><line x1="957" y1="1548" x2="1141" y2="1548"/>
<rect x="957" y="1592" width="184" height="63"/><line x1="1007" y1="1592" x2="1007" y2="1655"/><line x1="957" y1="1633" x2="1141" y2="1633"/>
<rect x="957" y="1770" width="184" height="59"/><line x1="1007" y1="1770" x2="1007" y2="1829"/><line x1="957" y1="1807" x2="1141" y2="1807"/>
<rect x="957" y="1975" width="184" height="60"/><line x1="1007" y1="1975" x2="1007" y2="2035"/><line x1="957" y1="2013" x2="1141" y2="2013"/>
</g>
<text x="982" y="1525" font-size="12">人数</text><text x="1074" y="1525" font-size="23">140人</text>
<text x="982" y="1559" font-size="11">(/l)</text><text x="1074" y="1559" font-size="17">66.0%</text>
<text x="982" y="1612" font-size="12">人数</text><text x="1074" y="1612" font-size="23">58人</text>
<text x="982" y="1644" font-size="11">(/m)</text><text x="1074" y="1644" font-size="17">76.3%</text>
<text x="982" y="1788" font-size="12">人数</text><text x="1074" y="1788" font-size="23">761人</text>
<text x="982" y="1818" font-size="11">(/n)</text><text x="1074" y="1818" font-size="17">84.7%</text>
<text x="982" y="1994" font-size="12">人数</text><text x="1074" y="1994" font-size="23">1,681人</text>
<text x="982" y="2024" font-size="11">(/o)</text><text x="1074" y="2024" font-size="17">58.3%</text>
</g>

<g id="n10">
<rect x="1266" y="1435" width="328" height="240" fill="#fff" stroke="#000" stroke-width="4"/>
<rect class="hdr" x="1266" y="1435" width="328" height="45"/>
<text x="1430" y="1457" class="ttl">加齢によるその他の疾患</text>
<circle class="cir" cx="1260" cy="1423" r="34"/><text x="1260" y="1424" class="cn2">10</text>
<g stroke="#000" stroke-width="2" fill="#fff">
<rect x="1299" y="1503" width="261" height="67"/><line x1="1409" y1="1503" x2="1409" y2="1570"/><line x1="1458" y1="1503" x2="1458" y2="1570"/><line x1="1409" y1="1548" x2="1560" y2="1548"/>
<rect x="1299" y="1592" width="261" height="63"/><line x1="1409" y1="1592" x2="1409" y2="1655"/><line x1="1458" y1="1592" x2="1458" y2="1655"/><line x1="1409" y1="1633" x2="1560" y2="1633"/>
</g>
<text x="1354" y="1521" font-size="18">骨折</text><text x="1354" y="1546" font-size="16">（l）</text>
<text x="1433" y="1525" font-size="12">人数</text><text x="1509" y="1525" font-size="23">212人</text>
<text x="1433" y="1559" font-size="11">(l/ア)</text><text x="1509" y="1559" font-size="17">4.2%</text>
<text x="1354" y="1610" font-size="18">認知症</text><text x="1354" y="1636" font-size="16">（m）</text>
<text x="1433" y="1612" font-size="12">人数</text><text x="1509" y="1612" font-size="23">76人</text>
<text x="1433" y="1644" font-size="11">(m/ア)</text><text x="1509" y="1644" font-size="17">1.5%</text>
</g>

<g id="n12">
<rect x="1266" y="1710" width="328" height="177" fill="#fff" stroke="#000" stroke-width="4"/>
<rect class="hdr" x="1266" y="1710" width="328" height="38"/>
<text x="1430" y="1729" class="ttl">多剤処方の状況</text>
<circle class="cir" cx="1258" cy="1718" r="34"/><text x="1258" y="1719" class="cn2">12</text>
<g stroke="#000" stroke-width="2" fill="#fff">
<rect x="1299" y="1770" width="261" height="59"/><line x1="1409" y1="1770" x2="1409" y2="1829"/><line x1="1458" y1="1770" x2="1458" y2="1829"/><line x1="1409" y1="1807" x2="1560" y2="1807"/>
</g>
<text x="1354" y="1786" font-size="16">6種類以上</text><text x="1354" y="1810" font-size="16">（n）</text>
<text x="1433" y="1788" font-size="12">人数</text><text x="1509" y="1788" font-size="23">898人</text>
<text x="1433" y="1818" font-size="11">(n/ア)</text><text x="1509" y="1818" font-size="17">17.6%</text>
<text x="1303" y="1849" font-size="13" class="s">※ひと月15日以上の処方がある薬剤を計上</text>
<text x="1303" y="1868" font-size="13" class="s">（外来のみ）</text>
</g>

<g id="n13">
<rect x="1266" y="1915" width="328" height="139" fill="#fff" stroke="#000" stroke-width="4"/>
<rect class="hdr" x="1266" y="1915" width="328" height="37"/>
<text x="1430" y="1933" class="ttl">歯科受診の状況</text>
<circle class="cir" cx="1262" cy="1927" r="34"/><text x="1262" y="1928" class="cn2">13</text>
<g stroke="#000" stroke-width="2" fill="#fff">
<rect x="1299" y="1975" width="261" height="60"/><line x1="1409" y1="1975" x2="1409" y2="2035"/><line x1="1458" y1="1975" x2="1458" y2="2035"/><line x1="1409" y1="2013" x2="1560" y2="2013"/>
</g>
<text x="1354" y="1991" font-size="16">受診あり</text><text x="1354" y="2015" font-size="16">（o）</text>
<text x="1433" y="1994" font-size="12">人数</text><text x="1509" y="1994" font-size="23">2,885人</text>
<text x="1433" y="2024" font-size="11">(n/ア)</text><text x="1509" y="2024" font-size="17">56.6%</text>
</g>

<g id="n11">
<g stroke="#000" stroke-width="2" fill="#fff">
<rect x="1928" y="1458" width="494" height="112" stroke-width="3"/>
<line x1="1928" y1="1503" x2="2422" y2="1503"/><line x1="2012" y1="1503" x2="2012" y2="1570"/><line x1="2065" y1="1503" x2="2065" y2="1570"/>
<line x1="2148" y1="1458" x2="2148" y2="1570" stroke-width="3.5"/><line x1="2241" y1="1458" x2="2241" y2="1570"/><line x1="2329" y1="1458" x2="2329" y2="1570"/>
<line x1="2012" y1="1548" x2="2422" y2="1548"/>
<rect x="1928" y="1592" width="494" height="63" stroke-width="3"/>
<line x1="2012" y1="1592" x2="2012" y2="1655"/><line x1="2065" y1="1592" x2="2065" y2="1655"/><line x1="2148" y1="1592" x2="2148" y2="1655" stroke-width="3.5"/><line x1="2241" y1="1592" x2="2241" y2="1655"/><line x1="2329" y1="1592" x2="2329" y2="1655"/><line x1="2012" y1="1633" x2="2422" y2="1633"/>
</g>
<text x="2038" y="1470" font-size="13">要介護認定者のうち</text><text x="2038" y="1491" font-size="13">下記の疾病治療者</text>
<text x="2195" y="1469" font-size="16">支援1・2</text><text x="2195" y="1492" font-size="16">（/カ）</text>
<text x="2285" y="1469" font-size="16">介1・2</text><text x="2285" y="1492" font-size="16">（/キ）</text>
<text x="2375" y="1469" font-size="16">介3・4・5</text><text x="2375" y="1492" font-size="16">（/ク）</text>
<text x="1970" y="1520" font-size="18">骨折</text><text x="1970" y="1545" font-size="16">（/l）</text>
<text x="2039" y="1525" font-size="12">人数</text><text x="2106" y="1525" font-size="23">41</text><text x="2195" y="1525" font-size="23">20</text><text x="2285" y="1525" font-size="23">11</text><text x="2375" y="1525" font-size="23">10</text>
<text x="2039" y="1559" font-size="12">割合</text><text x="2106" y="1559" font-size="16">19.3</text><text x="2195" y="1559" font-size="16">20.4</text><text x="2285" y="1559" font-size="16">14.7</text><text x="2375" y="1559" font-size="16">16.1</text>
<text x="1970" y="1610" font-size="18">認知症</text><text x="1970" y="1636" font-size="16">（/m）</text>
<text x="2039" y="1612" font-size="12">人数</text><text x="2106" y="1612" font-size="23">41</text><text x="2195" y="1612" font-size="23">3</text><text x="2285" y="1612" font-size="23">22</text><text x="2375" y="1612" font-size="23">16</text>
<text x="2039" y="1644" font-size="12">割合</text><text x="2106" y="1644" font-size="16">53.9</text><text x="2195" y="1644" font-size="16">3.1</text><text x="2285" y="1644" font-size="16">29.3</text><text x="2375" y="1644" font-size="16">25.8</text>
<circle class="cir" cx="1920" cy="1435" r="34"/><text x="1920" y="1436" class="cn2">11</text>
</g>

<g id="connectors" fill="none" stroke="#000">
<line x1="16" y1="1282" x2="351" y2="1282" stroke-width="4"/>
<line x1="548" y1="1282" x2="977" y2="1282" stroke-width="4"/>
<line x1="1170" y1="1282" x2="1686" y2="1282" stroke-width="4"/>
<line x1="238" y1="103" x2="705" y2="103" stroke-width="4"/>
<line x1="1265" y1="104" x2="1925" y2="104" stroke-width="4" marker-end="url(#A)"/>
<path d="M718,127 V202 H797" stroke-width="5" marker-end="url(#A)"/>
<line x1="114" y1="127" x2="114" y2="158" stroke-width="5"/>
<line x1="114" y1="224" x2="114" y2="286" stroke-width="5" marker-end="url(#A)"/>
<g stroke-width="1.5" stroke-dasharray="5,4">
<line x1="319" y1="510" x2="377" y2="510" marker-end="url(#a)"/>
<line x1="319" y1="644" x2="377" y2="644" marker-end="url(#a)"/>
<line x1="319" y1="821" x2="377" y2="821" marker-end="url(#a)"/>
<path d="M319,957 H333 V821"/>
<line x1="319" y1="1035" x2="377" y2="1035" marker-end="url(#a)"/>
<line x1="1069" y1="1410" x2="1069" y2="1308" marker-start="url(#a)" marker-end="url(#a)"/>
</g>
<line x1="440" y1="1150" x2="440" y2="1187" stroke-width="4"/>
<line x1="450" y1="1150" x2="450" y2="1187" stroke-width="4"/>
<line x1="1063" y1="658" x2="1063" y2="1187" stroke-width="5"/>
<line x1="1075" y1="658" x2="1075" y2="1187" stroke-width="5"/>
<line x1="1786" y1="1149" x2="1786" y2="1187" stroke-width="5"/>
<line x1="1797" y1="1149" x2="1797" y2="1187" stroke-width="5"/>
<line x1="795" y1="658" x2="795" y2="789" stroke-width="1.5"/>
<line x1="1063" y1="424" x2="1063" y2="453" stroke-width="1.5"/>
<line x1="1063" y1="521" x2="1063" y2="565" stroke-width="1.5"/>
<g stroke="#404040" stroke-width="2">
<line x1="895" y1="428" x2="1298" y2="428" marker-end="url(#a)"/>
<line x1="895" y1="542" x2="1298" y2="542" marker-end="url(#a)"/>
<line x1="1559" y1="699" x2="1926" y2="699" marker-end="url(#a)"/>
<line x1="1559" y1="810" x2="1926" y2="810" marker-end="url(#a)"/>
<line x1="1559" y1="923" x2="1926" y2="923" marker-end="url(#a)"/>
<line x1="1559" y1="1034" x2="1926" y2="1034" marker-end="url(#a)"/>
<line x1="1299" y1="1534" x2="1142" y2="1534" marker-end="url(#a)"/>
<line x1="1299" y1="1624" x2="1142" y2="1624" marker-end="url(#a)"/>
<line x1="1299" y1="1795" x2="1142" y2="1795" marker-end="url(#a)"/>
<line x1="1299" y1="1988" x2="1142" y2="1988" marker-end="url(#a)"/>
<line x1="1560" y1="1532" x2="1927" y2="1532" marker-end="url(#a)"/>
<line x1="1560" y1="1624" x2="1927" y2="1624" marker-end="url(#a)"/>
</g>
<g stroke-width="1.5">
<line x1="1788" y1="699" x2="1788" y2="723"/>
<line x1="1788" y1="810" x2="1788" y2="835"/>
<line x1="1788" y1="923" x2="1788" y2="947"/>
<line x1="1788" y1="1034" x2="1788" y2="1059"/>
<line x1="2241" y1="745" x2="2241" y2="790"/><line x1="2329" y1="745" x2="2329" y2="790"/>
<line x1="2241" y1="857" x2="2241" y2="902"/><line x1="2329" y1="857" x2="2329" y2="902"/>
<line x1="2241" y1="969" x2="2241" y2="1014"/><line x1="2329" y1="969" x2="2329" y2="1014"/>
<line x1="2241" y1="1570" x2="2241" y2="1592"/><line x1="2329" y1="1570" x2="2329" y2="1592"/>
</g>
<g stroke-width="3.5">
<line x1="2148" y1="745" x2="2148" y2="790"/>
<line x1="2148" y1="857" x2="2148" y2="902"/>
<line x1="2148" y1="969" x2="2148" y2="1014"/>
<line x1="2148" y1="1570" x2="2148" y2="1592"/>
</g>
</g>
</svg>
